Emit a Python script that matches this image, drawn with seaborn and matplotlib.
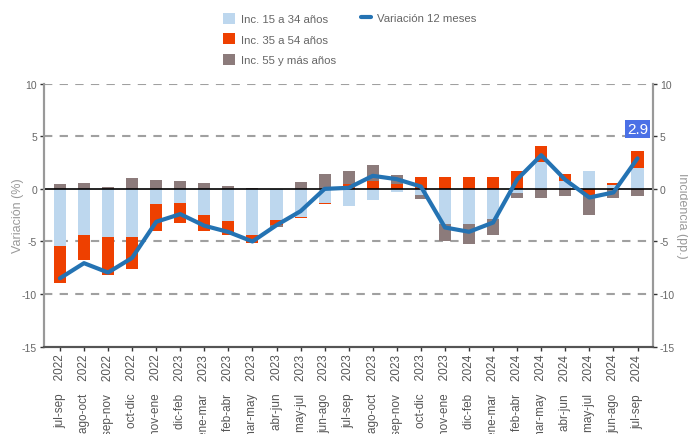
import numpy as np
import pandas as pd
import matplotlib
matplotlib.use("Agg")
import matplotlib.pyplot as plt
from matplotlib.patches import Patch
from matplotlib.lines import Line2D
import seaborn as sns

# periods (moving 3-month windows) and years
months = ['jul-sep', 'ago-oct', 'sep-nov', 'oct-dic', 'nov-ene', 'dic-feb', 'ene-mar', 'feb-abr',
          'mar-may', 'abr-jun', 'may-jul', 'jun-ago', 'jul-sep', 'ago-oct', 'sep-nov', 'oct-dic',
          'nov-ene', 'dic-feb', 'ene-mar', 'feb-abr', 'mar-may', 'abr-jun', 'may-jul', 'jun-ago',
          'jul-sep']
years = ['2022'] * 5 + ['2023'] * 12 + ['2024'] * 8

# contributions by age group (pp.)
inc_15_34 = [-5.47, -4.4, -4.53, -4.6, -1.48, -1.39, -2.53, -3.1, -4.37, -3.0, -2.72, -1.36, -1.64,
             -1.04, -0.28, -0.63, -3.37, -3.37, -2.87, -0.4, 2.6, 0.76, 1.68, 0.35, 1.94]
inc_35_54 = [-3.43, -2.35, -3.64, -2.97, -2.57, -1.87, -1.46, -1.27, -0.8, -0.47, -0.08, -0.08, 0.42,
             0.76, 0.45, 1.14, 1.17, 1.17, 1.17, 1.74, 1.49, 0.67, -0.6, 0.22, 1.63]
inc_55_mas = [0.42, 0.6, 0.2, 1.0, 0.89, 0.76, 0.54, 0.26, 0.07, -0.15, 0.7, 1.4, 1.26, 1.52, 0.88,
              -0.32, -1.58, -1.9, -1.53, -0.48, -0.91, -0.69, -1.88, -0.91, -0.66]
# 12-month variation (%)
variacion = [-8.5, -7.06, -7.95, -6.56, -3.13, -2.4, -3.5, -4.1, -5.0, -3.45, -2.12, 0.0, 0.1, 1.24,
             0.92, 0.22, -3.67, -4.08, -3.2, 0.9, 3.2, 0.86, -0.82, -0.34, 2.9]

series = [('Inc. 15 a 34 años', inc_15_34, '#bdd7ee'),
          ('Inc. 35 a 54 años', inc_35_54, '#ee4000'),
          ('Inc. 55 y más años', inc_55_mas, '#8c7b7b')]
line_color = '#2473b3'
txt_gray = '#666666'

sns.set_theme(style="white")
plt.rcParams['font.family'] = ['Liberation Sans', 'DejaVu Sans']
plt.rcParams['axes.unicode_minus'] = False

fig = plt.figure(figsize=(6.88, 4.35), dpi=100)
ax = fig.add_axes([0.064, 0.2007, 0.885, 0.6047])

x = np.arange(len(months))
pos_base = np.zeros(len(x))
neg_base = np.zeros(len(x))
for name, vals, col in series:
    v = np.array(vals)
    bottom = np.where(v >= 0, pos_base, neg_base)
    ax.bar(x, v, bottom=bottom, width=0.5, color=col, linewidth=0, zorder=2)
    pos_base = pos_base + np.where(v >= 0, v, 0)
    neg_base = neg_base + np.where(v < 0, v, 0)

ax.axhline(0, color='black', lw=1.2, zorder=3)

df_line = pd.DataFrame({'x': x, 'variacion': variacion})
sns.lineplot(data=df_line, x='x', y='variacion', color=line_color, linewidth=3, ax=ax, zorder=4)

# label for the last value
ax.text(x[-1], variacion[-1] + 2.1, f"{variacion[-1]:.1f}", ha='center', va='bottom',
        color='white', fontsize=11,
        bbox=dict(boxstyle='square,pad=0.12', facecolor='#4a70e6', edgecolor='none'), zorder=5)

ax.set_xlim(-0.66, len(x) - 0.36)
ax.set_ylim(-15, 10)
ax.set_yticks([-15, -10, -5, 0, 5, 10])
for yv in [-10, -5, 5, 10]:
    ax.axhline(yv, color='#a0a0a0', lw=1.5, ls=(0, (4, 3.5)), zorder=1)

ax.set_xticks(x)
ax.set_xticklabels([f"{m}    {y}" for m, y in zip(months, years)], rotation=90, va='top',
                   fontsize=8.5, color='#555555')
ax.set_xlabel('')
ax.set_ylabel('Variación (%)', color='#999999', fontsize=9, va='center')
ax.yaxis.set_label_coords(-0.042, 0.5)
ax.tick_params(axis='x', bottom=True, length=3, width=1, color='#333333', pad=2)
ax.tick_params(axis='y', left=True, length=3, width=1, color='#333333', labelsize=7.5,
               labelcolor=txt_gray, pad=2)

ax2 = ax.twinx()
ax2.set_ylim(-15, 10)
ax2.set_yticks([-15, -10, -5, 0, 5, 10])
ax2.set_ylabel('Incidencia (pp.)', color='#999999', fontsize=9, rotation=270, va='center')
ax2.yaxis.set_label_coords(1.048, 0.5)
ax2.tick_params(axis='y', right=True, length=3, width=1, color='#333333', labelsize=7.5,
                labelcolor=txt_gray, pad=2)

for a in (ax, ax2):
    a.spines['top'].set_visible(False)
    a.spines['left'].set_color('#999999')
    a.spines['left'].set_linewidth(1.5)
    a.spines['right'].set_color('#999999')
    a.spines['right'].set_linewidth(1.5)
    a.spines['bottom'].set_color('#555555')
    a.spines['bottom'].set_linewidth(1.5)

bar_handles = [Patch(facecolor=col, edgecolor='none', label=name) for name, _, col in series]
fig.legend(handles=bar_handles, loc='upper left', bbox_to_anchor=(217 / 688, 1 - 8 / 435),
           frameon=False, fontsize=8.2, labelcolor=txt_gray, borderpad=0, handlelength=1.1,
           handleheight=1.1, handletextpad=0.55, labelspacing=0.82)
line_handle = [Line2D([0], [0], color=line_color, lw=3, label='Variación 12 meses')]
fig.legend(handles=line_handle, loc='upper left', bbox_to_anchor=(355 / 688, 1 - 8 / 435),
           frameon=False, fontsize=8.2, labelcolor=txt_gray, borderpad=0, handlelength=0.9,
           handletextpad=0.55)

fig.savefig('out.png', dpi=100)
